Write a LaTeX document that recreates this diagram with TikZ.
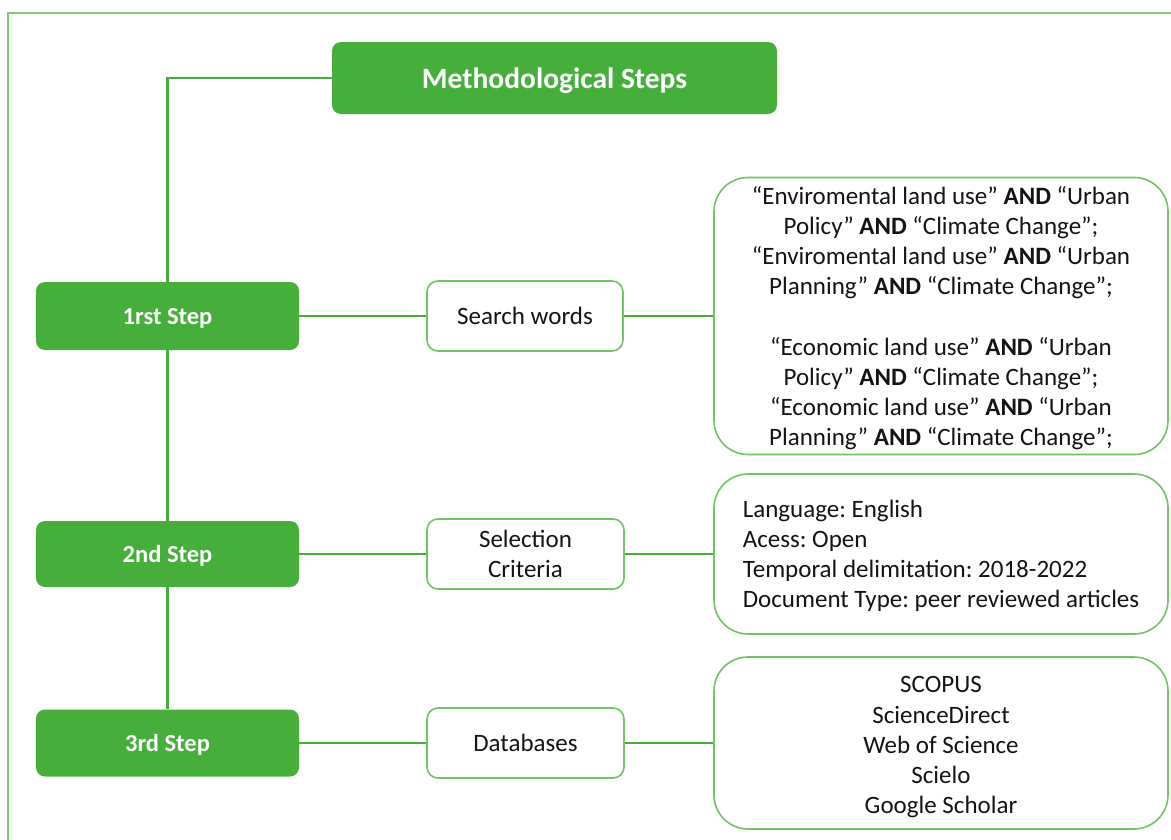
\documentclass[tikz,border=0pt]{standalone}
\usepackage{fontspec}
\setmainfont{Carlito}
\frenchspacing
\definecolor{mgreen}{RGB}{70,175,60}
\definecolor{lgreen}{RGB}{112,196,100}
\definecolor{fgreen}{RGB}{125,202,115}
\definecolor{txt}{RGB}{20,20,20}
\begin{document}
\begin{tikzpicture}[x=1pt,y=-1pt,
  greenbox/.style={draw=none,fill=mgreen,rounded corners=9pt,inner sep=0pt,text=white,text depth=0pt,font=\fontsize{24.5}{29}\selectfont\bfseries},
  whitebox/.style={draw=lgreen,line width=1.6pt,fill=white,rounded corners=11pt,inner sep=0pt,text=txt,align=center,font=\fontsize{25}{30}\selectfont},
  bigbox/.style={draw=lgreen,line width=1.6pt,fill=white,rounded corners=34pt,inner sep=0pt,text=txt,minimum width=454pt,font=\fontsize{25}{30.2}\selectfont},
  link/.style={draw=mgreen,line width=2.7pt}]
\useasboundingbox (0,0) rectangle (1171,839);
\draw[fgreen,line width=1.8pt] (1175,13) -- (8,13) -- (8,845);

\node[greenbox,minimum width=445pt,minimum height=72pt,font=\fontsize{29.5}{34}\selectfont\bfseries] (title) at (554.5,78) {Methodological Steps};

\node[greenbox,minimum width=263pt,minimum height=68pt] (s1) at (167.5,316) {1rst Step};
\node[greenbox,minimum width=263pt,minimum height=66pt] (s2) at (167.5,554) {2nd Step};
\node[greenbox,minimum width=263pt,minimum height=67pt] (s3) at (167.5,743) {3rd Step};

\node[whitebox,minimum width=196pt,minimum height=70pt] (m1) at (525,316) {Search words};
\node[whitebox,minimum width=197pt,minimum height=70pt] (m2) at (525.5,554) {Selection\\Criteria};
\node[whitebox,minimum width=197pt,minimum height=70pt] (m3) at (525.5,743) {Databases};

\node[bigbox,minimum height=277pt,align=center] (b1) at (941,316) {%
\rule{0pt}{22pt}“Enviromental land use” \textbf{AND} “Urban\\
Policy” \textbf{AND} “Climate Change”;\\
“Enviromental land use” \textbf{AND} “Urban\\
Planning” \textbf{AND} “Climate Change”;\\[30.2pt]
“Economic land use” \textbf{AND} “Urban\\
Policy” \textbf{AND} “Climate Change”;\\
“Economic land use” \textbf{AND} “Urban\\
Planning” \textbf{AND} “Climate Change”;};

\node[bigbox,minimum height=160pt,align=left] (b2) at (941,554) {%
\rule{0pt}{21pt}Language: English\\
Acess: Open\\
Temporal delimitation: 2018-2022\\
Document Type: peer reviewed articles};

\node[bigbox,minimum height=172pt,align=center] (b3) at (941,743) {%
\rule{0pt}{25pt}SCOPUS\\ScienceDirect\\Web of Science\\Scielo\\Google Scholar};

\draw[link] (title.west) -| (s1.north);
\draw[link] (s1.south) -- (s2.north);
\draw[link] (s2.south) -- (s3.north);
\draw[link] (s1.east) -- (m1.west);
\draw[link] (s2.east) -- (m2.west);
\draw[link] (s3.east) -- (m3.west);
\draw[link] (m1.east) -- (b1.west);
\draw[link] (m2.east) -- (b2.west);
\draw[link] (m3.east) -- (b3.west);
\end{tikzpicture}
\end{document}
